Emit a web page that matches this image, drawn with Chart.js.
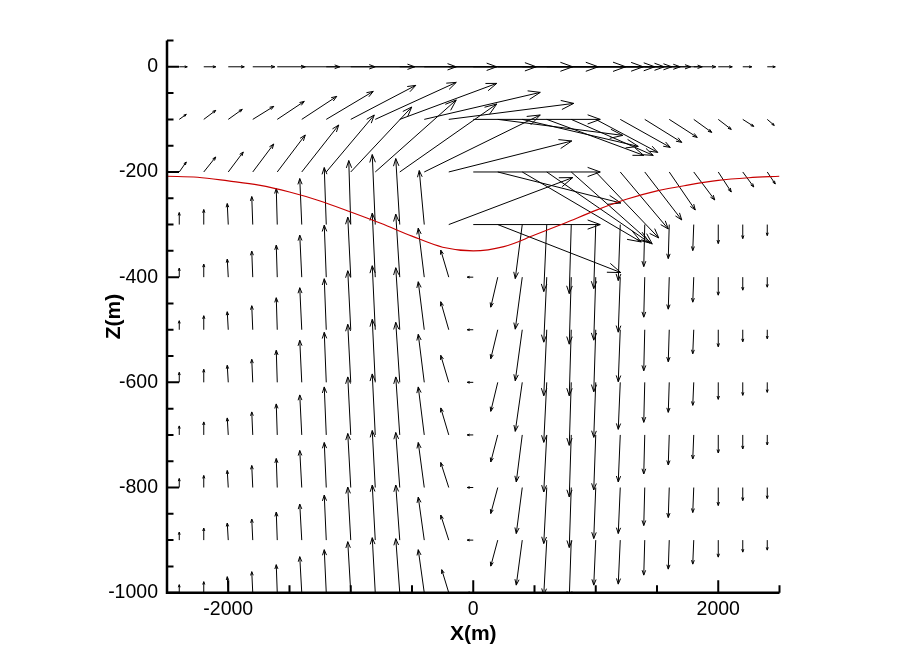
<!DOCTYPE html>
<html>
<head>
<meta charset="utf-8">
<title>Velocity field</title>
<script src="https://cdn.jsdelivr.net/npm/chart.js"></script>
<style>
  body { margin: 0; background: #fff; }
  #wrap { width: 914px; height: 656px; }
</style>
</head>
<body>
<div id="wrap"><canvas id="fieldChart" width="914" height="656"></canvas></div>
<script>
// grid of vector origins
const xGrid = [-2400, -2200, -2000, -1800, -1600, -1400, -1200, -1000, -800, -600, -400, -200, 0,
               200, 400, 600, 800, 1000, 1200, 1400, 1600, 1800, 2000, 2200, 2400];
const zGrid = [0, -100, -200, -300, -400, -500, -600, -700, -800, -900, -1000];

// horizontal component, one row per depth (vector units)
const uRows = [
  [8, 12, 16, 22, 28, 38, 49, 64, 81, 97, 112, 124, 125, 128, 121, 108, 93, 76, 60, 46, 33, 22, 14, 9, 8],
  [7, 12, 14, 21, 27, 35, 47, 65, 81, 97, 116, 125, 127, 125, 116, 97, 82, 62, 50, 37, 28, 18, 13, 11, 7],
  [7, 12, 15, 21, 28, 37, 48, 61, 81, 97, 116, 123, 127, 123, 119, 103, 81, 63, 48, 37, 26, 21, 13, 11, 8],
  [0, 0, -1, -1, -1, -2, -2, -2, -3, -4, -5, 124, 127, 123, -7, -3, -2, -2, -2, -1, -1, -1, 0, 0, 0],
  [0, 0, -1, -1, -1, -2, -2, -3, -3, -4, -6, -8, -6, -7, -7, -3, -2, -2, -2, -1, -1, -1, 0, 0, 0],
  [0, 0, -1, -1, -1, -2, -2, -3, -3, -4, -6, -8, -6, -7, -7, -3, -2, -2, -2, -1, -1, -1, 0, 0, 0],
  [0, 0, -1, -1, -1, -2, -2, -3, -3, -4, -6, -8, -6, -7, -7, -3, -2, -2, -2, -1, -1, -1, 0, 0, 0],
  [0, 0, -1, -1, -1, -2, -2, -3, -3, -4, -6, -8, -6, -7, -6, -3, -2, -2, -2, -1, -1, -1, 0, 0, 0],
  [0, 0, -1, -1, -1, -2, -2, -3, -3, -4, -6, -8, -6, -7, -6, -3, -2, -2, -2, -1, -1, -1, 0, 0, 0],
  [0, 0, -1, -1, -1, -2, -2, -3, -3, -4, -6, -8, -6, -7, -6, -3, -2, -2, -2, -1, -1, -1, 0, 0, 0],
  [0, 0, -1, -1, -1, -2, -2, -3, -3, -4, -6, -7, -6, -7, -6, -3, -2, -2, -2, -1, -1, -1, 0, 0, 0]
];

// vertical component, one row per depth (vector units, up is positive)
const wRows = [
  [0, 0, 0, 0, 0, 0, 0, 0, 0, 0, 0, 0, 0, 0, 0, 0, 0, 0, 0, 0, 0, 0, 0, 0, 0],
  [5, 9, 10, 13, 18, 23, 28, 34, 37, 36, 27, 16, 0, -16, -27, -36, -36, -33, -28, -23, -18, -13, -10, -7, -6],
  [10, 15, 20, 28, 37, 47, 57, 65, 72, 68, 57, 31, 0, -31, -70, -71, -72, -66, -57, -48, -38, -28, -20, -15, -12],
  [12, 15, 21, 28, 36, 46, 57, 64, 70, 66, 54, 47, 0, -48, -54, -67, -69, -64, -56, -42, -34, -26, -19, -14, -11],
  [9, 13, 18, 26, 32, 42, 52, 60, 64, 63, 49, 27, 0, -30, -52, -65, -67, -63, -55, -40, -32, -25, -18, -13, -10],
  [9, 14, 18, 24, 32, 42, 51, 59, 64, 62, 48, 28, 0, -29, -51, -66, -66, -62, -52, -41, -32, -24, -17, -12, -9],
  [10, 13, 17, 23, 32, 42, 50, 58, 63, 60, 48, 27, 0, -29, -49, -60, -63, -55, -47, -40, -30, -23, -17, -13, -10],
  [9, 13, 17, 23, 31, 40, 48, 58, 61, 58, 48, 27, 0, -27, -47, -57, -62, -55, -47, -39, -30, -24, -18, -14, -10],
  [9, 12, 17, 22, 29, 37, 45, 54, 57, 55, 45, 25, 0, -26, -46, -56, -60, -51, -46, -38, -30, -25, -18, -13, -11],
  [8, 12, 17, 21, 28, 36, 45, 53, 55, 55, 43, 25, 0, -26, -45, -55, -58, -45, -44, -35, -29, -24, -17, -12, -10],
  [8, 11, 16, 21, 28, 36, 43, 51, 55, 54, 43, 23, 0, -25, -44, -54, -57, -44, -42, -34, -28, -23, -17, -12, -10]
];

// interface (red line)
const interfaceX = [-2500, -2250, -2000, -1750, -1500, -1250, -1000, -750, -500, -250, 0,
                    250, 500, 750, 1000, 1250, 1500, 1750, 2000, 2250, 2500];
const interfaceZ = [-208, -210, -217, -225, -238, -255, -276, -298, -322, -343, -350,
                    -342, -320, -297, -273, -252, -236, -225, -216, -211, -208];

const xTicks = [-2000, 0, 2000];
const zTicks = [0, -200, -400, -600, -800, -1000];

const vecPx = 1;        // pixels per vector unit
const fontFam = '"Liberation Sans", Arial, sans-serif';

const vectorPlugin = {
  id: 'vectors',
  beforeDatasetsDraw(chart) {
    const { ctx, chartArea: a, scales: { x, y } } = chart;
    ctx.save();
    ctx.beginPath();
    ctx.rect(a.left, a.top, a.right - a.left, a.bottom - a.top);
    ctx.clip();
    ctx.strokeStyle = '#000';
    ctx.lineWidth = 1;
    zGrid.forEach((z, r) => {
      xGrid.forEach((xv, c) => {
        const u = uRows[r][c], w = wRows[r][c];
        const len = Math.hypot(u, w) * vecPx;
        if (len < 0.5) return;
        const x0 = x.getPixelForValue(xv), y0 = y.getPixelForValue(z);
        const x1 = x0 + u * vecPx, y1 = y0 - w * vecPx;
        const ang = Math.atan2(y1 - y0, x1 - x0);
        const head = 0.09 * len + 2;
        const spread = 20 * Math.PI / 180;
        ctx.beginPath();
        ctx.moveTo(x0, y0);
        ctx.lineTo(x1, y1);
        ctx.moveTo(x1 - head * Math.cos(ang - spread), y1 - head * Math.sin(ang - spread));
        ctx.lineTo(x1, y1);
        ctx.lineTo(x1 - head * Math.cos(ang + spread), y1 - head * Math.sin(ang + spread));
        ctx.stroke();
      });
    });
    ctx.restore();
  },
  afterDraw(chart) {
    const { ctx, chartArea: a, scales: { x, y } } = chart;
    ctx.save();
    ctx.strokeStyle = '#000';
    // axis lines
    ctx.lineWidth = 2.5;
    ctx.beginPath();
    ctx.moveTo(a.left, a.top);
    ctx.lineTo(a.left, a.bottom);
    ctx.lineTo(a.right, a.bottom);
    ctx.stroke();
    // inside ticks
    ctx.lineWidth = 2;
    ctx.beginPath();
    for (let v = -1000; v <= 50; v += 50) {
      const py = y.getPixelForValue(v);
      const len = zTicks.includes(v) ? 12 : 6.5;
      ctx.moveTo(a.left, py);
      ctx.lineTo(a.left + len, py);
    }
    for (let v = -2500; v <= 2500; v += 500) {
      const px = x.getPixelForValue(v);
      const len = xTicks.includes(v) ? 12.5 : 7.5;
      ctx.moveTo(px, a.bottom);
      ctx.lineTo(px, a.bottom - len);
    }
    ctx.stroke();
    ctx.restore();
  }
};

new Chart(document.getElementById('fieldChart'), {
  type: 'line',
  data: {
    datasets: [{
      label: 'interface',
      data: interfaceX.map((xv, i) => ({ x: xv, y: interfaceZ[i] })),
      borderColor: '#c80000',
      borderWidth: 1.1,
      pointRadius: 0,
      cubicInterpolationMode: 'monotone'
    }]
  },
  options: {
    responsive: false,
    animation: false,
    events: [],
    layout: { padding: { left: 0, top: 40.5, right: 134.5, bottom: 0 } },
    plugins: { legend: { display: false }, tooltip: { enabled: false } },
    scales: {
      x: {
        type: 'linear',
        min: -2500,
        max: 2500,
        afterBuildTicks: s => { s.ticks = xTicks.map(v => ({ value: v })); },
        afterFit: s => { s.height = 63.3; },
        grid: { display: false, drawTicks: false },
        border: { display: false },
        ticks: {
          color: '#000',
          padding: 5,
          maxRotation: 0,
          font: { family: fontFam, size: 19.5 },
          callback: v => String(v)
        },
        title: {
          display: true,
          text: 'X(m)',
          color: '#000',
          font: { family: fontFam, size: 21, weight: 'bold' },
          padding: { top: 0, bottom: 9 }
        }
      },
      y: {
        type: 'linear',
        min: -1000,
        max: 50,
        afterBuildTicks: s => { s.ticks = zTicks.map(v => ({ value: v })); },
        afterFit: s => { s.width = 167; },
        grid: { display: false, drawTicks: false },
        border: { display: false },
        ticks: {
          color: '#000',
          padding: 9,
          font: { family: fontFam, size: 19.5 },
          callback: v => String(v)
        },
        title: {
          display: true,
          text: 'Z(m)',
          color: '#000',
          font: { family: fontFam, size: 21, weight: 'bold' },
          padding: { top: 102, bottom: 0 }
        }
      }
    }
  },
  plugins: [vectorPlugin]
});
</script>
</body>
</html>
